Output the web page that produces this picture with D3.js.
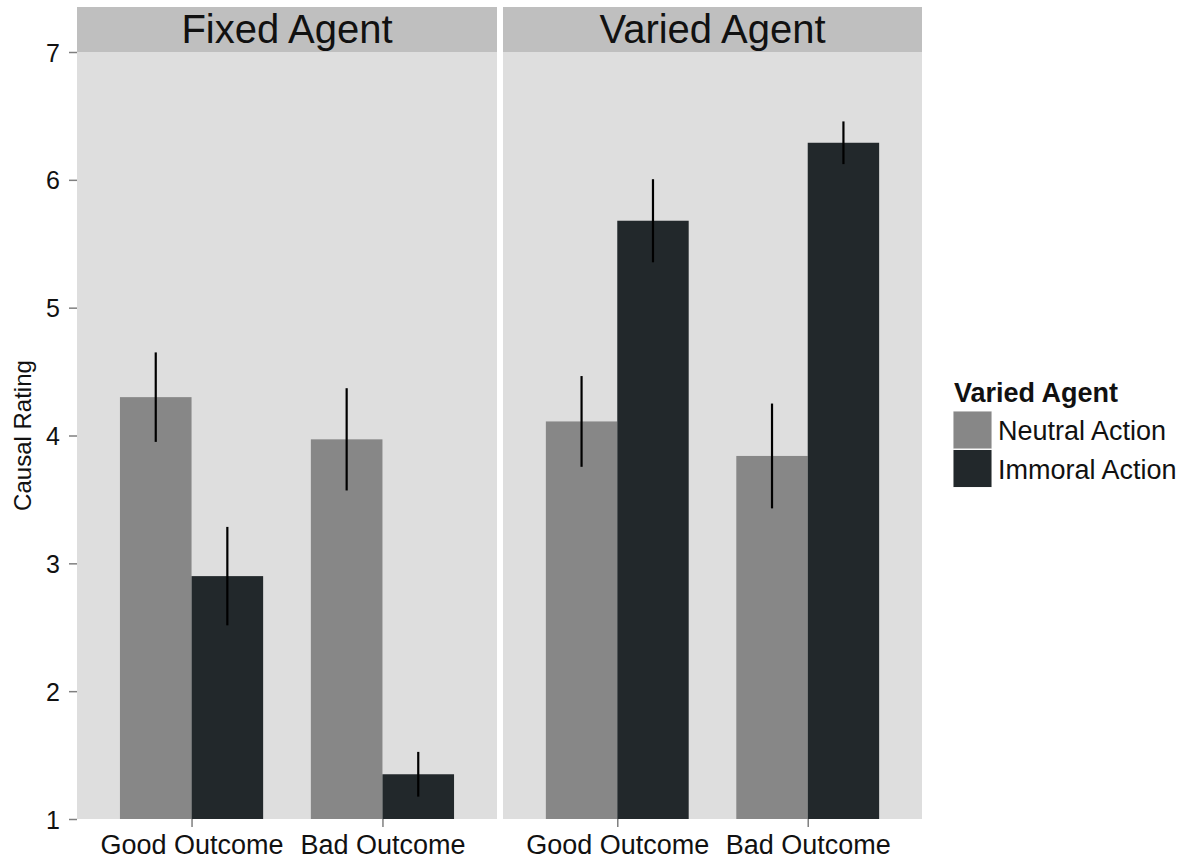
<!DOCTYPE html>
<html>
<head>
<meta charset="utf-8">
<script src="https://cdn.jsdelivr.net/npm/d3@7"></script>
<style>
  body { margin: 0; background: #ffffff; }
  svg { display: block; font-family: "Liberation Sans", Arial, sans-serif; }
</style>
</head>
<body>
<svg id="chart" width="1181" height="861"></svg>
<script>
// ---- Data ----
const facets = ["Fixed Agent", "Varied Agent"];
const outcomes = ["Good Outcome", "Bad Outcome"];
const actions = ["Neutral Action", "Immoral Action"];
// means [outcome][action]
const fixedMeans = [[4.30, 2.90], [3.97, 1.35]];
const fixedErrors = [[0.35, 0.385], [0.40, 0.175]];
const variedMeans = [[4.11, 5.68], [3.84, 6.29]];
const variedErrors = [[0.355, 0.325], [0.41, 0.167]];
const yTicks = [1, 2, 3, 4, 5, 6, 7];
const legendTitle = "Varied Agent";
const yTitle = "Causal Rating";
const barColors = ["#878787", "#22282b"];

const means = [fixedMeans, variedMeans];
const errs = [fixedErrors, variedErrors];

const FONT = "'Liberation Sans', Arial, sans-serif";
const svg = d3.select("#chart");

const panelTop = 52, panelBottom = 819;
const panels = [{x0: 77, x1: 497}, {x0: 503, x1: 922}];
const stripTop = 7;

const y = d3.scaleLinear().domain([1, 7]).range([panelBottom, panelTop]);
const color = d3.scaleOrdinal().domain(actions).range(barColors);

panels.forEach((p, fi) => {
  const g = svg.append("g");
  g.append("rect").attr("x", p.x0).attr("y", panelTop)
    .attr("width", p.x1 - p.x0).attr("height", panelBottom - panelTop)
    .attr("fill", "#dedede");
  g.append("rect").attr("x", p.x0).attr("y", stripTop)
    .attr("width", p.x1 - p.x0).attr("height", panelTop - stripTop)
    .attr("fill", "#bfbfbf");
  g.append("text").attr("x", (p.x0 + p.x1) / 2).attr("y", 43)
    .attr("text-anchor", "middle").attr("font-size", 40).attr("fill", "#111")
    .text(facets[fi]);

  const x = d3.scalePoint().domain(outcomes).range([p.x0, p.x1]).padding(0.6);
  const step = x.step();
  const xb = d3.scaleBand().domain(actions).range([-0.375 * step, 0.375 * step]).padding(0);

  const rows = [];
  outcomes.forEach((o, oi) => actions.forEach((a, ai) => {
    rows.push({o, a, v: means[fi][oi][ai], e: errs[fi][oi][ai]});
  }));

  g.selectAll("rect.bar").data(rows).join("rect")
    .attr("class", "bar")
    .attr("x", d => x(d.o) + xb(d.a))
    .attr("width", xb.bandwidth())
    .attr("y", d => y(d.v))
    .attr("height", d => y(1) - y(d.v))
    .attr("fill", d => color(d.a));

  g.selectAll("line.err").data(rows).join("line")
    .attr("class", "err")
    .attr("x1", d => x(d.o) + xb(d.a) + xb.bandwidth() / 2)
    .attr("x2", d => x(d.o) + xb(d.a) + xb.bandwidth() / 2)
    .attr("y1", d => y(d.v + d.e))
    .attr("y2", d => y(d.v - d.e))
    .attr("stroke", "#000").attr("stroke-width", 2.2);

  const xAxis = d3.axisBottom(x).tickSize(8).tickPadding(6);
  const ax = g.append("g").attr("transform", `translate(0,${panelBottom})`).call(xAxis);
  ax.select(".domain").remove();
  ax.selectAll(".tick line").attr("stroke", "#7f7f7f").attr("stroke-width", 1.5);
  ax.selectAll(".tick text").attr("font-size", 27).attr("fill", "#111")
    .attr("font-family", FONT)
    .attr("dy", null).attr("y", 35);
});

const yAxis = d3.axisLeft(y).tickValues(yTicks).tickFormat(d3.format("d")).tickSize(8).tickPadding(9);
const ay = svg.append("g").attr("transform", `translate(${panels[0].x0},0)`).call(yAxis);
ay.select(".domain").remove();
ay.selectAll(".tick line").attr("stroke", "#7f7f7f").attr("stroke-width", 1.5);
ay.selectAll(".tick text").attr("font-size", 25).attr("fill", "#111")
  .attr("font-family", FONT).attr("dy", "0.36em");

svg.append("text")
  .attr("transform", `translate(31,${(panelTop + panelBottom) / 2}) rotate(-90)`)
  .attr("text-anchor", "middle").attr("font-size", 24).attr("fill", "#111")
  .text(yTitle);

const lg = svg.append("g");
lg.append("text").attr("x", 954).attr("y", 402).attr("font-size", 27)
  .attr("font-weight", "bold").attr("fill", "#111").text(legendTitle);
actions.forEach((a, i) => {
  lg.append("rect").attr("x", 953).attr("y", 411 + i * 38.5)
    .attr("width", 39).attr("height", 38).attr("fill", "#f2f2f2");
  lg.append("rect").attr("x", 953.5).attr("y", 411.5 + i * 38.5)
    .attr("width", 38).attr("height", 37).attr("fill", color(a));
  lg.append("text").attr("x", 998).attr("y", 440 + i * 38.5)
    .attr("font-size", 27).attr("fill", "#111").text(a);
});
</script>
</body>
</html>
